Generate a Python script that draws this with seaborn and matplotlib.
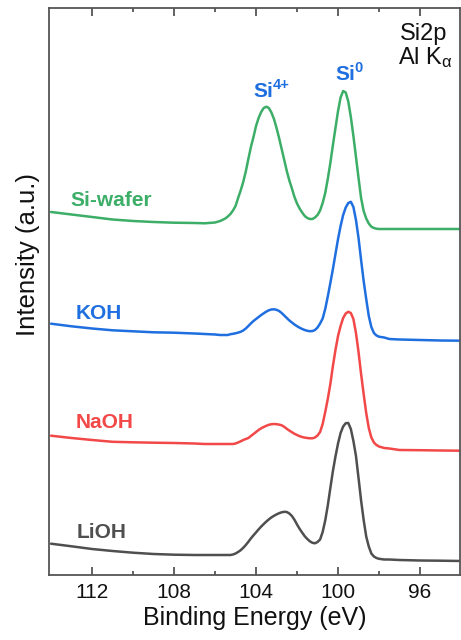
import matplotlib
matplotlib.use("Agg")
import matplotlib.pyplot as plt
import seaborn as sns
import pandas as pd

# Binding energy grid (eV)
energy = ([114, 113, 112, 111, 110, 109, 108, 107, 106.5, 106, 105.75] +
          [105.5, 105.375, 105.25, 105.125, 105, 104.875, 104.75, 104.625,
           104.5, 104.375, 104.25, 104.125, 104, 103.875, 103.75, 103.625,
           103.5, 103.375, 103.25, 103.125, 103, 102.875, 102.75, 102.625,
           102.5, 102.375, 102.25, 102.125, 102, 101.875, 101.75, 101.625,
           101.5, 101.375, 101.25, 101.125, 101, 100.875, 100.75, 100.625,
           100.5, 100.375, 100.25, 100.125, 100, 99.875, 99.75, 99.625,
           99.5, 99.375, 99.25, 99.125, 99, 98.875, 98.75, 98.625,
           98.5, 98.375, 98.25, 98.125, 98] +
          [97.75, 97.5, 97, 96, 95, 94])

# Intensity (a.u., curves stacked with offsets as in the figure)
si_wafer = [363, 360.5, 358, 355.5, 354, 353, 352.3, 352, 351.7, 352.5, 354,
            356.5, 358.5, 361, 364.5, 369, 377, 384.5, 393,
            403.5, 416, 428, 438, 449, 457, 463, 467,
            468.3, 467, 462.5, 456, 447, 437, 426, 415,
            404, 394.5, 386.5, 378, 371.5, 366.5, 362.5, 359,
            357, 356, 356, 357.5, 360, 364.5, 372, 382,
            396, 412, 430, 447, 464, 477.5, 484, 482.5,
            473.5, 458, 439, 418, 397, 377, 364, 356.5,
            351.5, 348.3, 347, 346.3, 346,
            346, 346, 346, 346, 346, 346]
koh = [251.3, 248.7, 246.5, 244.7, 243.7, 242.7, 242.3, 241.5, 241, 240.5, 240,
       240, 240, 240.8, 241.2, 241.7, 242.4, 243.2, 244.5,
       246.5, 249, 251.6, 254, 256, 258, 260, 261.7,
       263.4, 264.7, 265.5, 265.7, 265.2, 264, 262, 259.5,
       257, 254.5, 252.5, 250.5, 248.8, 247.3, 246, 245,
       244.2, 243.8, 243.9, 245, 247.5, 251.5, 256.5, 266,
       278.5, 292, 306, 321, 336, 349, 360, 367.5,
       372, 373.2, 368, 355, 337, 315, 294, 276,
       259, 248, 242, 239.5, 238.3,
       237.5, 236, 235.5, 235, 234.5, 234.3]
naoh = [139.3, 137, 135, 133.2, 132.7, 132.3, 132, 131.5, 131, 131, 131,
        131, 131, 131, 131, 131.5, 132.5, 133.7, 135,
        136, 137, 139, 141, 143, 145, 146.7, 148,
        149.2, 150.2, 150.8, 151, 150.8, 150.4, 149.7, 148.2,
        146.2, 144.4, 142.8, 141.2, 140, 138.8, 138, 137.4,
        137, 136.7, 136.7, 137.5, 139.5, 143, 151, 163,
        176, 191, 209, 225, 239, 249, 257, 261.5,
        263.2, 262, 256, 242, 223, 201, 181, 162,
        147, 137.5, 132.5, 130, 128.5,
        127, 126.5, 125, 124.8, 124.5, 124.3]
lioh = [31.3, 28.7, 26, 24, 22.3, 21, 20.3, 20, 20, 20, 20,
        20, 20, 20, 20.5, 21.5, 23, 24.8, 27.2,
        30, 33.2, 36.6, 39.7, 42.6, 45.6, 48.4, 51,
        53.4, 55.6, 57.6, 59.2, 60.6, 61.8, 62.7, 63.2,
        63, 61.5, 59, 55.2, 50.5, 46.2, 42.4, 38.8,
        36, 33.7, 32.2, 31.7, 33, 35.5, 43, 54.5,
        69.5, 87, 104, 118.5, 131.5, 142, 148.5, 151.8,
        152, 146, 134, 119, 97, 74.5, 55, 38.5,
        28.5, 21.5, 18.5, 17, 16.2,
        15.5, 15.5, 15, 14.5, 14.3, 14]

samples = ["Si-wafer", "KOH", "NaOH", "LiOH"]
colors = ["#3cae67", "#1f6fe0", "#f24848", "#4f4f4f"]
xticks = [112, 108, 104, 100, 96]
minor_xticks = [110, 106, 102, 98]
peak_names = ["Si", "Si"]
peak_sups = ["4+", "0"]

sns.set_style("ticks")
plt.rcParams["font.family"] = ["Liberation Sans", "DejaVu Sans"]
plt.rcParams["mathtext.fontset"] = "custom"
plt.rcParams["mathtext.rm"] = "Liberation Sans"
plt.rcParams["mathtext.sf"] = "Liberation Sans"
plt.rcParams["mathtext.it"] = "Liberation Sans:italic"
plt.rcParams["mathtext.bf"] = "Liberation Sans:bold"

frames = []
for name, vals in zip(samples, [si_wafer, koh, naoh, lioh]):
    frames.append(pd.DataFrame({"energy": energy, "intensity": vals, "sample": name}))
df = pd.concat(frames, ignore_index=True)

fig = plt.figure(figsize=(4.61, 6.40), dpi=100)
ax = fig.add_axes([49 / 461, 1 - 575 / 640, 411 / 461, 567 / 640])

sns.lineplot(data=df, x="energy", y="intensity", hue="sample", hue_order=samples,
             palette=colors, linewidth=1.8, legend=False, ax=ax, estimator=None,
             sort=False)

ax.set_xlim(114.1, 94.05)
ax.set_ylim(0, 567)
ax.set_xticks(xticks)
ax.set_xticks(minor_xticks, minor=True)
ax.set_yticks([])
ax.tick_params(axis="x", which="both", direction="in", top=True, bottom=True,
               colors="#555555", labelcolor="#111111", labelsize=15, pad=6)
ax.tick_params(axis="x", which="major", length=6, width=1.3)
ax.tick_params(axis="x", which="minor", length=3, width=1.3)
for sp in ax.spines.values():
    sp.set_color("#555555")
    sp.set_linewidth(1.3)

ax.set_xlabel("Binding Energy (eV)", fontsize=18, labelpad=3, color="#111111")
ax.set_ylabel("Intensity (a.u.)", fontsize=18.5, color="#111111")
ax.yaxis.set_label_coords(-0.022, 0.565)

# sample labels
lab_pos = [(113.07, 374), (112.78, 261.5), (112.78, 152), (112.73, 42)]
for name, c, (lx, ly) in zip(samples, colors, lab_pos):
    ax.text(lx, ly, name, color=c, fontsize=15, fontweight="bold",
            ha="left", va="center")

# peak labels with superscripts
blue = "#1f6fe0"
peak_pos = [(104.12, 478), (100.12, 495)]
for base, sup, (px, py) in zip(peak_names, peak_sups, peak_pos):
    t = ax.text(px, py, base, color=blue, fontsize=15, fontweight="bold",
                ha="left", va="baseline")
    ax.annotate(sup, xy=(1, 1), xycoords=t, xytext=(-0.8, 3.0),
                textcoords="offset points", color=blue, fontsize=10.5,
                fontweight="bold", ha="left", va="top")

ax.text(0.854, 0.9436, "Si2p", transform=ax.transAxes, fontsize=17,
        ha="left", va="baseline", color="#111111")
ax.text(0.849, 0.9012, r"Al K$_{\mathsf{\alpha}}$", transform=ax.transAxes,
        fontsize=17, ha="left", va="baseline", color="#111111")

fig.savefig("out.png", dpi=100)
